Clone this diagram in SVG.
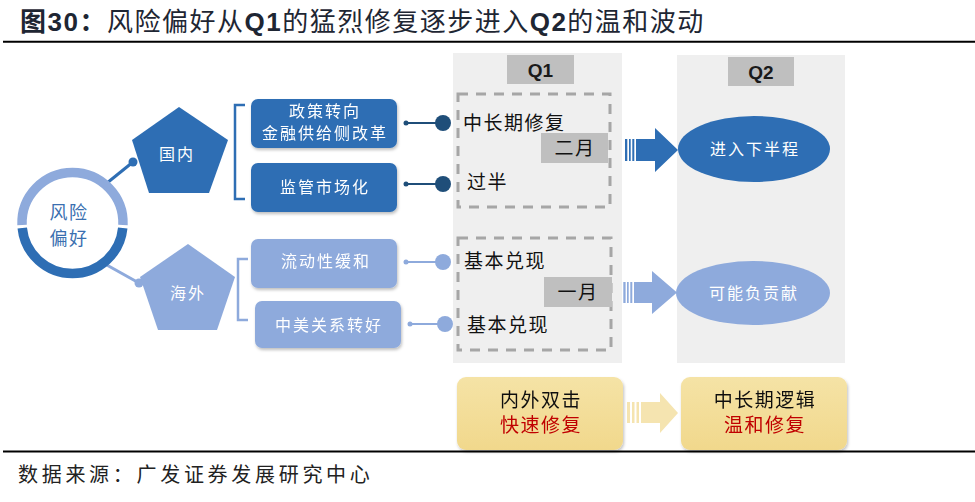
<svg xmlns="http://www.w3.org/2000/svg" width="975" height="502" viewBox="0 0 975 502">
<style>
.cjk{font-family:"Noto Sans CJK SC","Liberation Sans",sans-serif}
.title{font-size:26px;fill:#1e2633;letter-spacing:1.5px}
.bold{font-weight:bold;font-family:"Liberation Sans","Noto Sans CJK SC",sans-serif}
.wt{fill:#fff;font-size:16px;text-anchor:middle;letter-spacing:2px}
.q1t{fill:#111;font-size:19px;letter-spacing:1.5px}
.hdr{font-family:"Liberation Sans",sans-serif;font-weight:bold;font-size:19px;fill:#1a1a1a;text-anchor:middle}
.dark{fill:#2e6eb4}
.light{fill:#8eaadc}
.navy{fill:#1f4e79}
.dash{fill:none;stroke:#a6a6a6;stroke-width:3;stroke-dasharray:10 8}
.ybox{fill:url(#yg)}
.red{fill:#c00000}
.blk{fill:#111}
</style>
<defs>
<filter id="sh" x="-10%" y="-10%" width="125%" height="135%">
<feDropShadow dx="1" dy="2" stdDeviation="1.5" flood-color="#000" flood-opacity="0.25"/>
</filter>
<linearGradient id="yg" x1="0" y1="0" x2="0" y2="1">
<stop offset="0" stop-color="#f5e3a6"/>
<stop offset="1" stop-color="#f1d88c"/>
</linearGradient>
</defs>
<rect width="975" height="502" fill="#fff"/>

<!-- title -->
<text class="cjk title" x="20" y="31"><tspan font-weight="bold">图</tspan><tspan class="bold">30</tspan><tspan font-weight="bold">：</tspan>风险偏好从<tspan class="bold">Q1</tspan>的猛烈修复逐步进入<tspan class="bold">Q2</tspan>的温和波动</text>
<line x1="3" y1="41.7" x2="975" y2="41.7" stroke="#000" stroke-width="2"/>

<!-- panels -->
<g id="q1-panel">
<rect x="453" y="53" width="169" height="310" fill="#efefef"/>
<rect x="507" y="55" width="67" height="29" fill="#bfbfbf"/>
<text class="hdr" x="540.5" y="77">Q1</text>
</g>
<g id="q2-panel">
<rect x="677" y="55" width="168" height="308" fill="#efefef"/>
<rect x="728" y="57" width="66" height="29" fill="#bfbfbf"/>
<text class="hdr" x="761" y="79">Q2</text>
</g>

<!-- connectors -->
<g id="connectors">
<line x1="107" y1="183" x2="133" y2="162" stroke="#2e6eb4" stroke-width="3"/>
<circle cx="133" cy="162" r="4.5" class="dark"/>
<line x1="105" y1="264" x2="139" y2="283" stroke="#8eaadc" stroke-width="3"/>
<circle cx="139" cy="283" r="4.5" class="light"/>
<path d="M245,105 H235 V199 H245" fill="none" stroke="#2e6eb4" stroke-width="2.5"/>
<path d="M248,259 H238 V320 H248" fill="none" stroke="#8eaadc" stroke-width="2.5"/>
<line x1="406" y1="123" x2="443" y2="123" stroke="#1f4e79" stroke-width="2"/>
<circle cx="406" cy="123" r="2.5" class="navy"/>
<circle cx="443" cy="123" r="8" class="navy"/>
<line x1="406" y1="184" x2="443" y2="184" stroke="#1f4e79" stroke-width="2"/>
<circle cx="406" cy="184" r="2.5" class="navy"/>
<circle cx="443" cy="184" r="8" class="navy"/>
<line x1="406" y1="262" x2="443" y2="262" stroke="#8eaadc" stroke-width="2"/>
<circle cx="406" cy="262" r="2.5" class="light"/>
<circle cx="443" cy="262" r="8" class="light"/>
<line x1="410" y1="324" x2="445" y2="324" stroke="#8eaadc" stroke-width="2"/>
<circle cx="410" cy="324" r="2.5" class="light"/>
<circle cx="445" cy="324" r="8" class="light"/>
<!-- block arrows -->
<g class="dark">
<rect x="625" y="139" width="2.3" height="22"/>
<rect x="629" y="139" width="1.7" height="22"/>
<rect x="632.3" y="139" width="2" height="22"/>
<path d="M636,139 H655 V128 L678,150 L655,172 V161 H636 Z"/>
</g>
<g class="light">
<rect x="623.3" y="282" width="2.3" height="21"/>
<rect x="627" y="282" width="1.7" height="21"/>
<rect x="630.3" y="282" width="2" height="21"/>
<path d="M634,282 H652 V271 L677,292.5 L652,314 V303 H634 Z"/>
</g>
<g fill="#f5e4b0">
<rect x="627" y="402" width="3" height="21"/>
<rect x="632" y="402" width="2.5" height="21"/>
<rect x="636.5" y="402" width="2.5" height="21"/>
<path d="M641,402 H660 V393 L678,413 L660,433 V423 H641 Z"/>
</g>
</g>

<!-- center circle -->
<g id="risk">
<path d="M22.04,225 A50.5,50.5 0 1 1 122.96,225" fill="none" stroke="#8eaadc" stroke-width="9.5"/>
<path d="M122.75,228 A50.5,50.5 0 0 1 22.25,228" fill="none" stroke="#2e6eb4" stroke-width="9.5"/>
<text class="cjk" x="69" y="219" font-size="18" fill="#3a6fb0" text-anchor="middle" letter-spacing="1.5">风险</text>
<text class="cjk" x="69" y="245" font-size="18" fill="#3a6fb0" text-anchor="middle" letter-spacing="1.5">偏好</text>
</g>

<g id="domestic">
<polygon points="179,107 228,140 209,193 149,193 132,140" class="dark"/>
<text class="cjk wt" x="177" y="160">国内</text>
</g>
<g id="overseas">
<polygon points="188,244 235,277 217,330 158,330 140,277" class="light"/>
<text class="cjk wt" x="188" y="299">海外</text>
</g>

<g id="box-policy" filter="url(#sh)">
<rect x="251" y="99" width="146" height="49" rx="7" class="dark"/>
<text class="cjk wt" x="325" y="117" font-size="15.5" letter-spacing="1.5">政策转向</text>
<text class="cjk wt" x="325" y="139" font-size="15.5" letter-spacing="1">金融供给侧改革</text>
</g>
<g id="box-regulation" filter="url(#sh)">
<rect x="251" y="163" width="146" height="49" rx="7" class="dark"/>
<text class="cjk wt" x="325" y="193">监管市场化</text>
</g>
<g id="box-liquidity" filter="url(#sh)">
<rect x="251" y="239" width="146" height="49" rx="7" class="light"/>
<text class="cjk wt" x="326" y="267">流动性缓和</text>
</g>
<g id="box-sino-us" filter="url(#sh)">
<rect x="255" y="301" width="146" height="47" rx="7" class="light"/>
<text class="cjk wt" x="329" y="331">中美关系转好</text>
</g>

<g id="q1-feb">
<rect x="458" y="94" width="152" height="113" class="dash"/>
<rect x="541" y="133" width="67" height="30" fill="#bfbfbf"/>
<text class="cjk q1t" x="463" y="130">中长期修复</text>
<text class="cjk q1t" x="575" y="155" text-anchor="middle">二月</text>
<text class="cjk q1t" x="467" y="189">过半</text>
</g>
<g id="q1-jan">
<rect x="458" y="238" width="153" height="112" class="dash"/>
<rect x="544" y="277" width="68" height="30" fill="#bfbfbf"/>
<text class="cjk q1t" x="464" y="268">基本兑现</text>
<text class="cjk q1t" x="578" y="299" text-anchor="middle">一月</text>
<text class="cjk q1t" x="467" y="332">基本兑现</text>
</g>

<g id="q2-second-half">
<ellipse cx="754" cy="149" rx="76" ry="33" class="dark"/>
<text class="cjk wt" x="755" y="155">进入下半程</text>
</g>
<g id="q2-negative">
<ellipse cx="753" cy="293" rx="77" ry="32" class="light"/>
<text class="cjk wt" x="754" y="299">可能负贡献</text>
</g>

<g id="fast-repair" filter="url(#sh)">
<rect x="457" y="377" width="166" height="73" rx="9" class="ybox"/>
<text class="cjk blk" x="541" y="407" font-size="19" text-anchor="middle" letter-spacing="1.5">内外双击</text>
<text class="cjk red" x="541" y="432" font-size="19" text-anchor="middle" letter-spacing="1.5">快速修复</text>
</g>
<g id="mild-repair" filter="url(#sh)">
<rect x="681" y="377" width="166" height="73" rx="9" class="ybox"/>
<text class="cjk blk" x="765" y="407" font-size="19" text-anchor="middle" letter-spacing="1.5">中长期逻辑</text>
<text class="cjk red" x="765" y="432" font-size="19" text-anchor="middle" letter-spacing="1.5">温和修复</text>
</g>

<line x1="3" y1="451.5" x2="975" y2="451.5" stroke="#000" stroke-width="2"/>
<text class="cjk" x="18" y="482" font-size="20" fill="#222" letter-spacing="3.7">数据来源：广发证券发展研究中心</text>
</svg>
